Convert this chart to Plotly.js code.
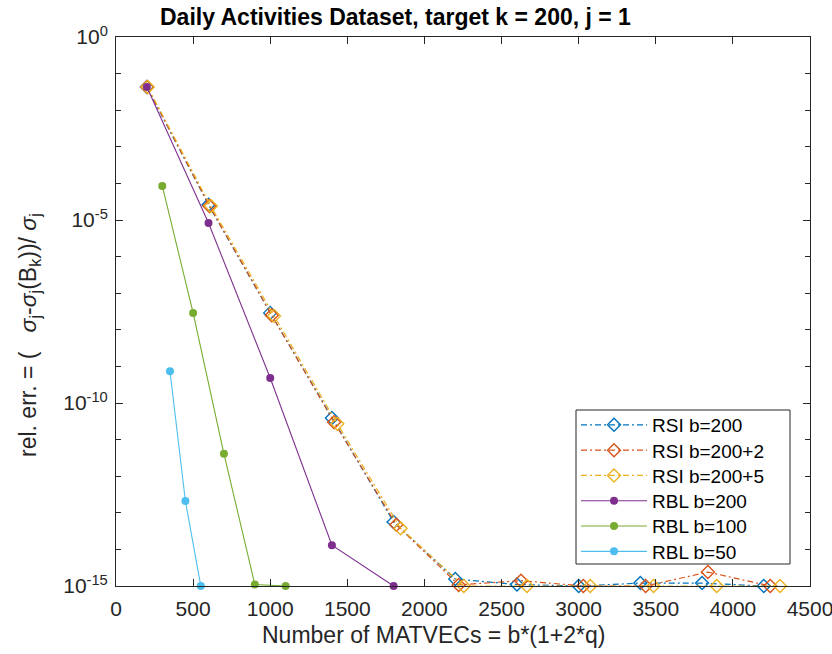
<!DOCTYPE html>
<html>
<head>
<meta charset="utf-8">
<script src="https://cdn.plot.ly/plotly-3.0.1.min.js"></script>
<style>html,body{margin:0;padding:0;background:#fff;}#chart{width:832px;height:654px;}</style>
</head>
<body>
<div id="chart"></div>
<script>
// MATVEC counts
var xRSI200 = [200, 600, 1000, 1400, 1800, 2200, 2600, 3000, 3400, 3800, 4200];
var xRSI202 = [202, 606, 1010, 1414, 1818, 2222, 2626, 3030, 3434, 3838, 4242];
var xRSI205 = [205, 615, 1025, 1435, 1845, 2255, 2665, 3075, 3485, 3895, 4305];
var xRBL200 = [200, 600, 1000, 1400, 1800];
var xRBL100 = [300, 500, 700, 900, 1100];
var xRBL50  = [350, 450, 550];

// relative errors
var yRSI200 = [4.3e-2, 2.6e-5, 2.9e-8, 3.9e-11, 5.6e-14, 1.55e-15, 1.1e-15, 1.0e-15, 1.2e-15, 1.2e-15, 1.0e-15];
var yRSI202 = [4.3e-2, 2.4e-5, 2.5e-8, 3.0e-11, 4.7e-14, 1.07e-15, 1.4e-15, 1.0e-15, 1.0e-15, 2.4e-15, 1.0e-15];
var yRSI205 = [4.3e-2, 2.4e-5, 2.4e-8, 2.7e-11, 3.8e-14, 1.0e-15, 1.0e-15, 1.0e-15, 1.0e-15, 1.0e-15, 1.0e-15];
var yRBL200 = [4.3e-2, 8.3e-6, 4.8e-10, 1.3e-14, 1.0e-15];
var yRBL100 = [8.5e-5, 2.9e-8, 4.1e-12, 1.1e-15, 1.0e-15];
var yRBL50  = [7.4e-10, 2.1e-13, 1.0e-15];

var names = ['RSI b=200', 'RSI b=200+2', 'RSI b=200+5', 'RBL b=200', 'RBL b=100', 'RBL b=50'];
var yTickVals = [1e-15, 1e-10, 1e-5, 1];
var yTickText = ['10<sup>-15</sup>', '10<sup>-10</sup>', '10<sup>-5</sup>', '10<sup>0</sup>'];
var yMinorVals = [1e-14,1e-13,1e-12,1e-11,1e-9,1e-8,1e-7,1e-6,1e-4,1e-3,1e-2,1e-1];

var legendIds = ['legend', 'legend2', 'legend3', 'legend4', 'legend5', 'legend6'];
var dashDot = '6px,3px,2px,3px';
function rsi(x, y, name, color, lg) {
  return {x: x, y: y, name: name, legend: lg, type: 'scatter', mode: 'lines+markers', cliponaxis: false,
    line: {color: color, width: 1.2, dash: dashDot},
    marker: {symbol: 'diamond-open', size: 10, color: color, line: {width: 1.4, color: color}}};
}
function rbl(x, y, name, color, lg) {
  return {x: x, y: y, name: name, legend: lg, type: 'scatter', mode: 'lines+markers', cliponaxis: false,
    line: {color: color, width: 1.1},
    marker: {symbol: 'circle', size: 8, color: color}};
}
var data = [
  rsi(xRSI200, yRSI200, names[0], '#0072BD', legendIds[0]),
  rsi(xRSI202, yRSI202, names[1], '#D95319', legendIds[1]),
  rsi(xRSI205, yRSI205, names[2], '#EDB120', legendIds[2]),
  rbl(xRBL200, yRBL200, names[3], '#7E2F8E', legendIds[3]),
  rbl(xRBL100, yRBL100, names[4], '#77AC30', legendIds[4]),
  rbl(xRBL50, yRBL50, names[5], '#4DBEEE', legendIds[5])
];

var W = 832, H = 654, L = 116, R = 22, T = 37, B = 68;
var pw = W - L - R, ph = H - T - B;
function px2x(p) { return (p - L) / pw; }
function px2y(p) { return (H - B - p) / ph; }

var axisColor = '#262626';
var layout = {
  width: W, height: H,
  paper_bgcolor: '#ffffff', plot_bgcolor: '#ffffff',
  margin: {l: L, r: R, t: T, b: B},
  font: {family: 'Liberation Sans, Arial, sans-serif', color: axisColor, size: 21},
  title: {text: '<b>Daily Activities Dataset, target k = 200, j = 1</b>', x: 160 / W, xref: 'container', xanchor: 'left',
    y: 1 - 17 / H, yref: 'container', yanchor: 'middle', font: {size: 23, color: '#000'}},
  showlegend: true,
  xaxis: {range: [0, 4500], dtick: 500, tick0: 0, ticks: 'inside', ticklen: 7, tickcolor: axisColor,
    showline: true, linecolor: axisColor, linewidth: 1, mirror: 'ticks', zeroline: false, showgrid: false,
    tickfont: {size: 21}, ticklabelstandoff: 4, ticklabeloverflow: 'allow'},
  yaxis: {type: 'log', range: [-15, 0], tickmode: 'array', tickvals: yTickVals, ticktext: yTickText,
    ticks: 'inside', ticklen: 7, tickcolor: axisColor, showline: true, linecolor: axisColor, linewidth: 1,
    mirror: 'ticks', zeroline: false, showgrid: false, tickfont: {size: 21}, ticklabelstandoff: 3,
    ticklabeloverflow: 'allow',
    minor: {tickmode: 'array', tickvals: yMinorVals, ticks: 'inside', ticklen: 5, tickcolor: axisColor, showgrid: false}},
  annotations: [
    {text: 'Number of MATVECs = b*(1+2*q)', xref: 'paper', yref: 'paper', x: px2x(433), y: px2y(635),
      xanchor: 'center', yanchor: 'middle', showarrow: false, font: {size: 23, color: axisColor}},
    {text: 'rel. err. = (   <i>σ</i><sub>j</sub>-<i>σ</i><sub>j</sub>(B<sub>k</sub>))/ <i>σ</i><sub>j</sub>',
      xref: 'paper', yref: 'paper', x: px2x(29), y: px2y(335), textangle: -90,
      xanchor: 'center', yanchor: 'middle', showarrow: false, font: {size: 23, color: axisColor}}
  ],
  shapes: [
    {type: 'rect', xref: 'paper', yref: 'paper', x0: px2x(576), x1: px2x(790), y0: px2y(564), y1: px2y(410),
      line: {color: axisColor, width: 1}, fillcolor: '#ffffff', layer: 'below'}
  ]
};
var entryCenters = [425, 450.3, 475.6, 500.9, 526.2, 551.5];
legendIds.forEach(function (id, i) {
  layout[id] = {x: px2x(576), y: px2y(entryCenters[i]), xanchor: 'left', yanchor: 'middle',
    bgcolor: 'rgba(0,0,0,0)', borderwidth: 0, font: {size: 19, color: '#000'}, itemwidth: 66};
});
Plotly.newPlot('chart', data, layout, {displayModeBar: false, staticPlot: true});
</script>
</body>
</html>
